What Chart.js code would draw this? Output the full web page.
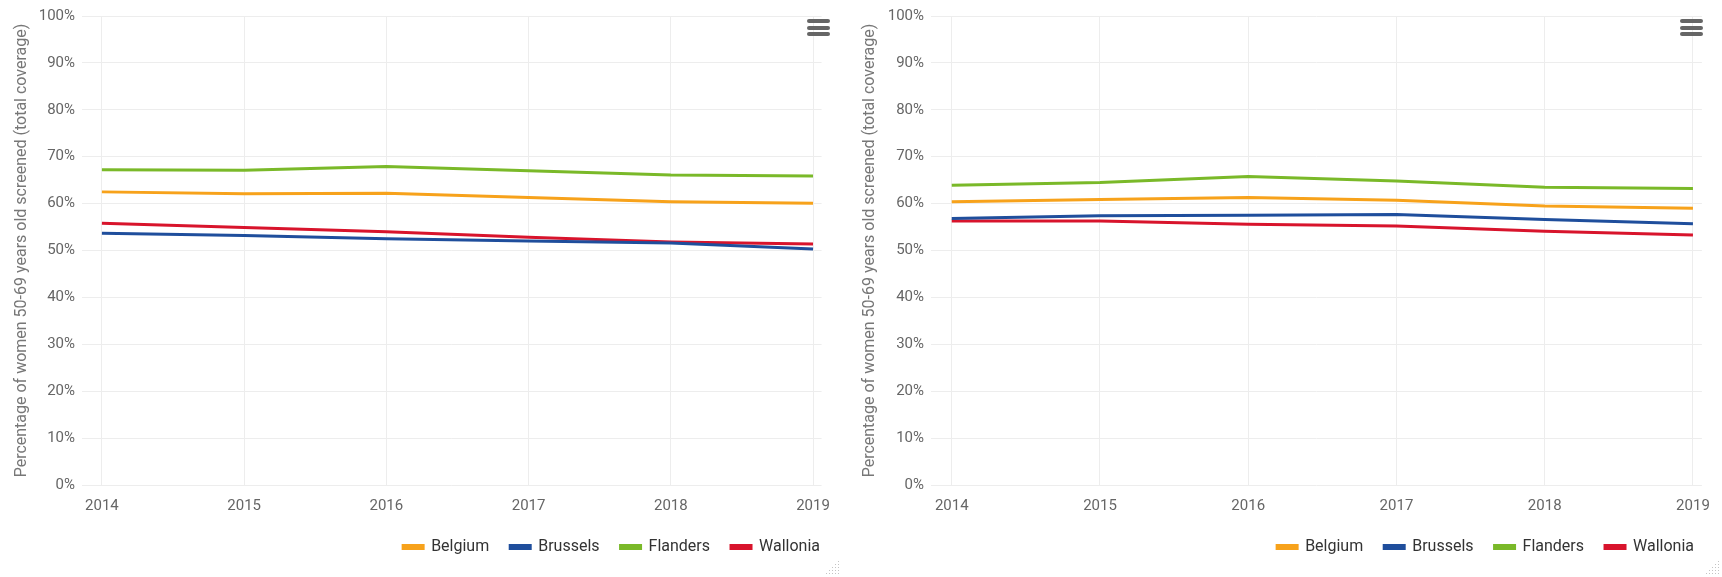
<!DOCTYPE html>
<html>
<head>
<meta charset="utf-8">
<script src="https://cdn.jsdelivr.net/npm/chart.js@4.4.1/dist/chart.umd.min.js"></script>
<style>
    html, body { margin: 0; padding: 0; background: #fff; }
    body { width: 1722px; height: 577px; position: relative; overflow: hidden; }
    canvas { position: absolute; top: 0; }
    #chartA { left: 0; }
    #chartB { left: 848px; }
    .menu { position: absolute; top: 19px; width: 23px; }
    .menu span { display: block; height: 4px; border-radius: 2px; background: #666; margin-bottom: 2.5px; }
</style>
</head>
<body>
<canvas id="chartA" width="842" height="577"></canvas>
<canvas id="chartB" width="874" height="577"></canvas>
<div class="menu" style="left:807px"><span></span><span></span><span></span></div>
<div class="menu" style="left:1680px"><span></span><span></span><span></span></div>
<script>
const years = [2014, 2015, 2016, 2017, 2018, 2019];
const regions = ['Belgium', 'Brussels', 'Flanders', 'Wallonia'];
const yTicks = [0, 10, 20, 30, 40, 50, 60, 70, 80, 90, 100];

// left panel
const belgiumA  = [62.5, 62.1, 62.2, 61.3, 60.4, 60.1];
const brusselsA = [53.7, 53.2, 52.5, 52.0, 51.6, 50.3];
const flandersA = [67.2, 67.1, 67.9, 67.0, 66.1, 65.9];
const walloniaA = [55.8, 54.9, 54.0, 52.8, 51.8, 51.4];

// right panel
const belgiumB  = [60.4, 60.9, 61.3, 60.7, 59.5, 59.0];
const brusselsB = [56.8, 57.4, 57.5, 57.7, 56.6, 55.7];
const flandersB = [63.9, 64.5, 65.8, 64.8, 63.5, 63.2];
const walloniaB = [56.3, 56.3, 55.6, 55.2, 54.1, 53.3];

const colors = ['#f7a21b', '#1f4e9c', '#7ab929', '#d8142c'];
const yTitle = 'Percentage of women 50-69 years old screened (total coverage)';

// moves the legend box relative to where the layout put it
const nudgeLegend = {
    id: 'nudgeLegend',
    afterLayout(chart, args, opts) {
        const lg = chart.legend;
        lg.left += opts.dx;
        lg.right += opts.dx;
        lg.top += opts.dy;
        lg.bottom += opts.dy;
    }
};

// little dotted resize grip in the bottom right corner
const resizeGrip = {
    id: 'resizeGrip',
    afterDraw(chart) {
        const c = chart.ctx;
        const w = chart.width, h = chart.height;
        c.save();
        c.fillStyle = '#c4c4c4';
        for (let row = 0; row < 5; row++) {
            for (let col = 4 - row; col < 5; col++) {
                c.fillRect(w - 16 + col * 3, h - 16 + row * 3, 1, 1);
            }
        }
        c.restore();
    }
};

function makeChart(id, series, yWidth, padRight, legendDx) {
    const ctx = document.getElementById(id).getContext('2d');
    return new Chart(ctx, {
        type: 'line',
        data: {
            datasets: series.map((values, i) => ({
                label: regions[i],
                data: values.map((v, j) => ({ x: years[j], y: v })),
                borderColor: colors[i],
                backgroundColor: colors[i],
                borderWidth: 3,
                pointRadius: 0,
                tension: 0,
                fill: false
            }))
        },
        options: {
            responsive: false,
            animation: false,
            devicePixelRatio: 1,
            layout: { padding: { top: 12, right: padRight, left: 0, bottom: 3 } },
            scales: {
                x: {
                    type: 'linear',
                    min: 2013.86,
                    max: 2019.06,
                    afterBuildTicks: scale => {
                        scale.ticks = years.map(y => ({ value: y }));
                    },
                    ticks: {
                        padding: 12,
                        color: '#666',
                        font: { family: 'Roboto', size: 15 },
                        maxRotation: 0,
                        callback: v => String(v)
                    },
                    grid: { color: '#ededed', drawTicks: false },
                    border: { display: false }
                },
                y: {
                    min: 0,
                    max: 100,
                    afterBuildTicks: scale => {
                        scale.ticks = yTicks.map(v => ({ value: v }));
                    },
                    afterFit: scale => { scale.width = yWidth; },
                    ticks: {
                        padding: 7,
                        color: '#666',
                        font: { family: 'Roboto', size: 15 },
                        callback: v => v + '%'
                    },
                    grid: { color: '#ededed', drawTicks: false },
                    border: { display: false },
                    title: {
                        display: true,
                        text: yTitle,
                        color: '#777',
                        font: { family: 'Roboto', size: 16 },
                        padding: { top: 12, bottom: 0 }
                    }
                }
            },
            plugins: {
                legend: {
                    position: 'bottom',
                    align: 'end',
                    labels: {
                        boxWidth: 20,
                        boxHeight: 3,
                        padding: 21,
                        color: '#333',
                        font: { family: 'Roboto', size: 16 }
                    }
                },
                nudgeLegend: { dx: legendDx, dy: -9 },
                tooltip: { enabled: false }
            }
        },
        plugins: [nudgeLegend, resizeGrip]
    });
}

makeChart('chartA', [belgiumA, brusselsA, flandersA, walloniaA], 82, 9, 8);
makeChart('chartB', [belgiumB, brusselsB, flandersB, walloniaB], 83, 16, 9);
</script>
</body>
</html>
